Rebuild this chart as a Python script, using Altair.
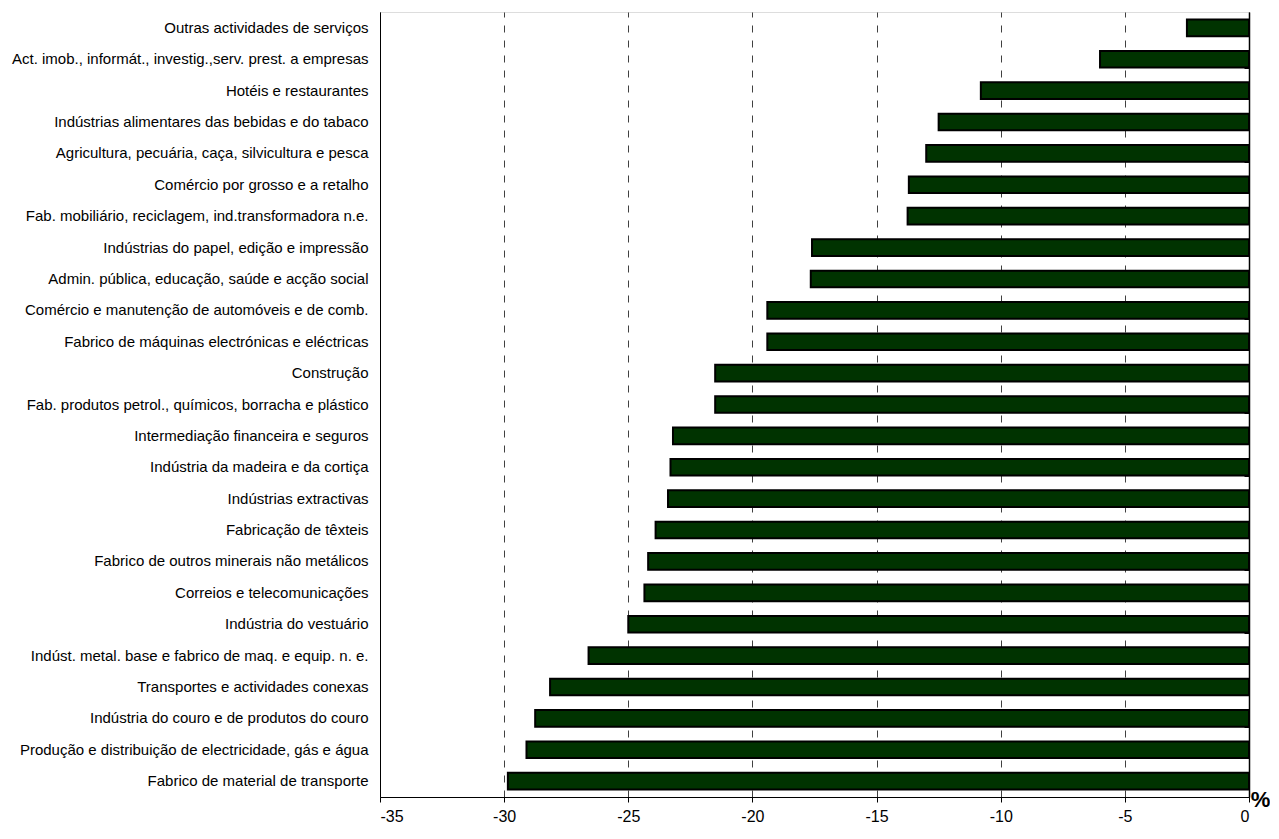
import altair as alt
import pandas as pd

categories = [
    "Outras actividades de serviços",
    "Act. imob., informát., investig.,serv. prest. a empresas",
    "Hotéis e restaurantes",
    "Indústrias alimentares das bebidas e do tabaco",
    "Agricultura, pecuária, caça, silvicultura e pesca",
    "Comércio por grosso e a retalho",
    "Fab. mobiliário, reciclagem, ind.transformadora n.e.",
    "Indústrias do papel, edição e impressão",
    "Admin. pública, educação, saúde e acção social",
    "Comércio e manutenção de automóveis e de comb.",
    "Fabrico de máquinas electrónicas e eléctricas",
    "Construção",
    "Fab. produtos petrol., químicos, borracha e plástico",
    "Intermediação financeira e seguros",
    "Indústria da madeira e da cortiça",
    "Indústrias extractivas",
    "Fabricação de têxteis",
    "Fabrico de outros minerais não metálicos",
    "Correios e telecomunicações",
    "Indústria do vestuário",
    "Indúst. metal. base e fabrico de maq. e equip. n. e.",
    "Transportes e actividades conexas",
    "Indústria do couro e de produtos do couro",
    "Produção e distribuição de electricidade, gás e água",
    "Fabrico de material de transporte",
]

values = [
    -2.5, -6.0, -10.8, -12.5, -13.0, -13.7, -13.75, -17.6, -17.65, -19.4,
    -19.4, -21.5, -21.5, -23.2, -23.3, -23.4, -23.9, -24.2, -24.35, -25.0,
    -26.6, -28.15, -28.75, -29.1, -29.85,
]

x_ticks = [-35, -30, -25, -20, -15, -10, -5, 0]

df = pd.DataFrame({"cat": categories, "val": values})

W = 869
H = 785
FONT = "Liberation Sans"

x_enc = alt.X(
    "val:Q",
    scale=alt.Scale(domain=[-35, 0], nice=False, zero=True),
    axis=alt.Axis(
        values=x_ticks,
        labelExpr="'' + datum.value",
        labelFont=FONT,
        labelFontSize=16,
        labelColor="black",
        labelPadding=6,
        domainColor="black",
        domainWidth=1,
        tickColor="black",
        tickSize=5,
        grid=True,
        gridDash=[7, 8],
        gridColor="#404040",
        gridWidth=1,
        title="%",
        titleFont=FONT,
        titleFontSize=22,
        titleFontWeight="bold",
        titleColor="black",
        titleX=880,
        titleY=2,
        titleAlign="center",
        titleBaseline="middle",
    ),
)

y_scale = alt.Scale(paddingInner=0.47, paddingOuter=0.24)

bars = alt.Chart(df).mark_bar(color="#003300", stroke="black", strokeWidth=2).encode(
    x=x_enc,
    y=alt.Y(
        "cat:N",
        sort=categories,
        scale=y_scale,
        axis=alt.Axis(
            title=None,
            labelFont=FONT,
            labelFontSize=15,
            labelColor="black",
            labelPadding=12,
            labelLimit=600,
            ticks=False,
            domainColor="black",
            grid=False,
        ),
    ),
)

ticks_layer = alt.Chart(df).mark_bar(opacity=0).encode(
    x=x_enc,
    y=alt.Y(
        "cat:N",
        sort=categories,
        scale=y_scale,
        axis=alt.Axis(
            title=None,
            orient="left",
            offset=-W,
            labels=False,
            ticks=True,
            tickBand="extent",
            tickSize=5,
            tickWidth=1,
            tickColor="black",
            tickOpacity=1,
            domainColor="black",
            domainWidth=1.5,
            grid=False,
        ),
    ),
)

chart = (
    alt.layer(bars, ticks_layer)
    .resolve_scale(y="independent")
    .properties(width=W, height=H, padding={"left": 3, "top": 4, "right": 0, "bottom": 0})
    .configure_view(stroke="#808080", strokeWidth=1)
    .configure(background="white")
)

chart.save("out.html", embed_options={"renderer": "svg", "actions": False})
